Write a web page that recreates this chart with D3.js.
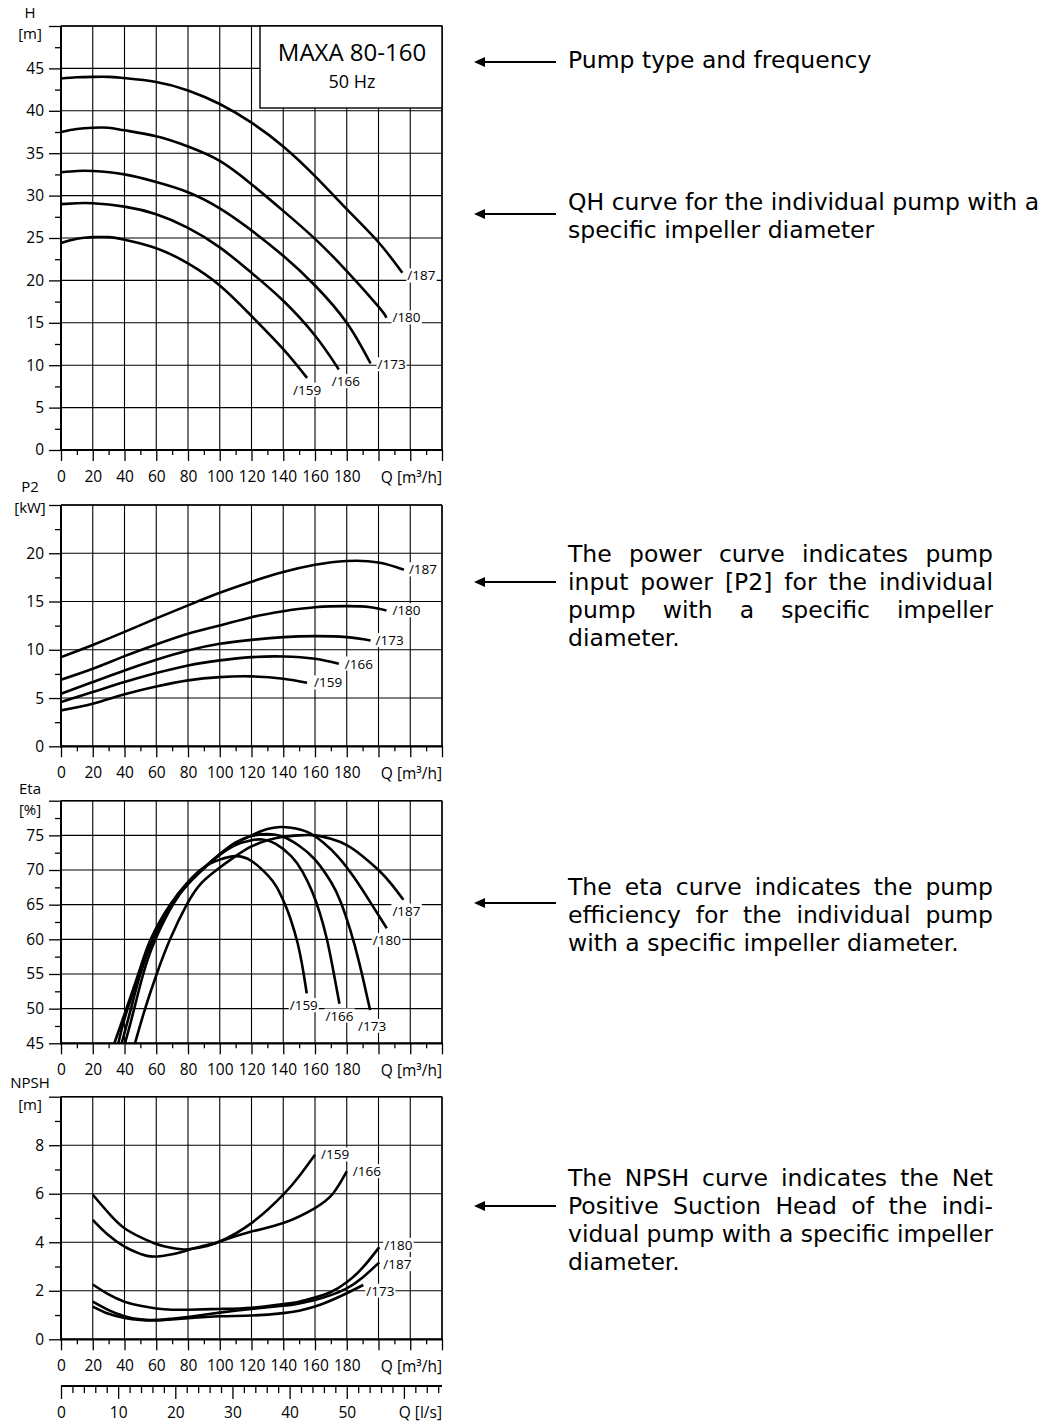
<!DOCTYPE html>
<html lang="en">
<head>
<meta charset="UTF-8" />
<title>MAXA 80-160 pump curves</title>
<script src="https://d3js.org/d3.v7.min.js"></script>
<style>
  body { margin: 0; background: #fff; }
  svg text { font-family: "Open Sans", "Noto Sans", sans-serif; fill: #000; }
  svg text.note { font-family: "DejaVu Sans", "Open Sans", sans-serif; }
  .grid line { stroke: #000; stroke-width: 1.1; }
  .tick line { stroke: #000; stroke-width: 1.3; }
  .curve { fill: none; stroke: #000; stroke-width: 2.6; stroke-linejoin: round; }
</style>
</head>
<body>
<svg id="svg" width="1048" height="1425"></svg>
<script>
// impeller diameters, in the order of each series array below
const sizes = ["159", "166", "173", "180", "187"];

// QH curves [Q m3/h, H m]
const headData = [
  [[0,24.4],[10,24.9],[20,25.1],[30,25.1],[40,24.8],[60,23.8],[80,22.0],[100,19.4],[120,15.8],[140,11.9],[155,8.5]],
  [[0,29.0],[10,29.1],[20,29.1],[40,28.7],[60,27.8],[80,26.2],[100,23.9],[120,20.9],[140,17.6],[160,13.5],[175,9.5]],
  [[0,32.75],[10,32.9],[20,32.9],[40,32.5],[60,31.6],[80,30.4],[100,28.5],[120,25.9],[140,22.9],[160,19.4],[180,15.0],[195,10.2]],
  [[0,37.5],[10,37.85],[20,38.0],[30,38.0],[40,37.7],[60,37.0],[80,35.8],[100,34.1],[120,31.35],[140,28.2],[160,24.9],[180,21.1],[200,16.9],[205,15.6]],
  [[0,43.8],[10,43.95],[20,44.0],[30,44.0],[40,43.85],[60,43.4],[80,42.4],[100,40.8],[120,38.6],[140,35.8],[160,32.3],[180,28.4],[200,24.5],[215,20.9]]
];

// power curves [Q m3/h, P2 kW]
const powerData = [
  [[0,3.72],[20,4.41],[40,5.38],[60,6.2],[80,6.83],[100,7.17],[120,7.24],[140,7.0],[155,6.59]],
  [[0,4.59],[20,5.62],[40,6.66],[60,7.59],[80,8.38],[100,8.9],[120,9.24],[140,9.31],[160,9.07],[175,8.55]],
  [[0,5.45],[20,6.66],[40,7.86],[60,8.97],[80,9.93],[100,10.62],[120,11.03],[140,11.31],[160,11.41],[180,11.31],[195,10.97]],
  [[0,6.9],[20,8.03],[40,9.34],[60,10.55],[80,11.66],[100,12.52],[120,13.38],[140,14.0],[160,14.41],[180,14.52],[195,14.41],[205,14.07]],
  [[0,9.24],[20,10.5],[40,11.85],[60,13.25],[80,14.6],[100,15.9],[120,17.05],[140,18.05],[160,18.8],[180,19.2],[200,19.05],[216,18.3]]
];

// efficiency curves [Q m3/h, eta %]
const etaData = [
  [[33.6,45],[40,49.2],[48.7,55],[56.5,60],[68.7,65],[80,68.3],[90,70.4],[100,71.5],[110,72],[120,71.3],[130,69.3],[136,67.5],[141.2,65],[144.5,63],[149,59.5],[152.5,55.5],[154.8,52.2]],
  [[36.1,45],[41,49.3],[49.5,55],[57.5,60],[69.5,65],[80,68],[90,70.3],[100,72.2],[110,73.6],[120,74.3],[127,74.4],[135,73.8],[145,72],[152,69.8],[158,67],[163,63.8],[167.5,60],[171.5,55.5],[175.4,50.7]],
  [[38.2,45],[43.5,49.5],[50,55],[58,60],[69.5,65],[80,68],[89.5,70.2],[100,72.3],[110,74],[120,74.9],[130,75.2],[140,74.8],[150,73.5],[160,71.5],[170,68.3],[176,65.5],[182,61.5],[188,56.5],[194.7,49.8]],
  [[40.3,45],[45,49],[51.8,55],[59.5,60],[70.5,65],[80,68],[89,70],[100,72.2],[110,73.8],[120,75],[130,75.9],[138,76.2],[145,76.1],[155,75.5],[165,74],[175,71.8],[185,68.8],[195,65.3],[205.2,61.6]],
  [[46.6,45],[53,50],[60.3,55],[68.7,60],[79.2,65],[88,68],[98,70],[110,72],[120,73.4],[130,74.3],[140,74.8],[150,75.0],[160,75.0],[170,74.5],[180,73.6],[190,72],[200,70],[208,68],[215.7,65.7]]
];

// NPSH curves [Q m3/h, NPSH m]
const npshData = [
  [[20,4.92],[29,4.34],[40,3.82],[50,3.52],[58,3.41],[71,3.52],[80,3.68],[92,3.89],[100,4.03],[120,4.79],[140,5.96],[150,6.72],[160,7.61]],
  [[20,5.96],[31,5.13],[40,4.58],[50,4.21],[60,3.93],[71,3.75],[80,3.71],[92,3.85],[100,4.03],[120,4.44],[140,4.79],[160,5.41],[171.6,6.03],[180,6.92]],
  [[20,1.35],[30,1.05],[40,0.88],[50,0.8],[60,0.78],[70,0.82],[80,0.87],[100,0.95],[120,0.98],[140,1.08],[150,1.18],[160,1.35],[170,1.6],[180,1.9],[190.4,2.24]],
  [[20,2.26],[30,1.85],[40,1.55],[50,1.38],[60,1.27],[70,1.22],[80,1.22],[100,1.25],[120,1.3],[140,1.45],[150,1.55],[160,1.72],[170,1.95],[180,2.35],[190,2.95],[200.5,3.8]],
  [[20,1.55],[30,1.2],[40,0.95],[50,0.82],[60,0.8],[70,0.85],[80,0.92],[100,1.1],[120,1.25],[140,1.38],[150,1.48],[160,1.62],[170,1.82],[180,2.1],[190,2.55],[200.5,3.17]]
];

const flowTicks = d3.range(0, 241, 20);
const flowMinor = d3.range(10, 240, 20);
const flowLabels = d3.range(0, 181, 20);
const litreTicks = d3.range(0, 67, 10);
const litreMinor = d3.range(2, 67, 2).filter(v => v % 10 !== 0);
const litreLabels = [0, 10, 20, 30, 40, 50];

const notes = [
  { lines: ["Pump type and frequency"], justify: false },
  { lines: ["QH curve for the individual pump with a", "specific impeller diameter"], justify: false },
  { lines: ["The power curve indicates pump", "input power [P2] for the individual",
            "pump with a specific impeller", "diameter."], justify: true },
  { lines: ["The eta curve indicates the pump", "efficiency for the individual pump",
            "with a specific impeller diameter."], justify: true },
  { lines: ["The NPSH curve indicates the Net", "Positive Suction Head of the indi-",
            "vidual pump with a specific impeller", "diameter."], justify: true }
];

// layout ------------------------------------------------------------
const svg = d3.select("#svg");
svg.append("rect").attr("width", 1048).attr("height", 1425).attr("fill", "#fff");

const left = 61, right = 442;
const tickFont = "15.5px";
const x = d3.scaleLinear().domain([0, 240]).range([left, right]);

const panels = [
  { name: "H", unit: "[m]", data: headData, domain: [0, 50], step: 5, minor: 2.5, top: 26, bottom: 450,
    nameY: -8, unitY: 13,
    offs: [[-14, 12], [-7, 12], [7, 1], [6, 0], [5, 3]] },
  { name: "P2", unit: "[kW]", data: powerData, domain: [0, 25], step: 5, minor: 2.5, top: 505, bottom: 746.3,
    nameY: -13, unitY: 8,
    offs: [[7, 0], [6, 0], [5, 0], [6, 0], [5, 0]] },
  { name: "Eta", unit: "[%]", data: etaData, domain: [45, 80], step: 5, minor: 2.5, top: 800.7, bottom: 1043.3,
    nameY: -7, unitY: 14,
    offs: [[-17, 12], [-14, 12], [-12, 16], [-14, 12], [-11, 11]] },
  { name: "NPSH", unit: "[m]", data: npshData, domain: [0, 10], step: 2, minor: 1, top: 1096.7, bottom: 1339.3,
    nameY: -9, unitY: 13,
    offs: [[6, 0], [6, 0], [3, 6], [5, -2], [4, 2]] }
];

panels.forEach((p, pi) => {
  const y = d3.scaleLinear().domain(p.domain).range([p.bottom, p.top]);
  const g = svg.append("g");
  const major = d3.range(p.domain[0], p.domain[1] + 0.001, p.step);
  const minor = d3.range(p.domain[0] + p.minor, p.domain[1], p.step);

  // grid
  const grid = g.append("g").attr("class", "grid");
  grid.selectAll(".v").data(flowTicks).join("line")
    .attr("x1", d => x(d)).attr("x2", d => x(d))
    .attr("y1", p.top).attr("y2", p.bottom);
  grid.selectAll(".h").data(major).join("line")
    .attr("x1", left).attr("x2", right)
    .attr("y1", d => y(d)).attr("y2", d => y(d));

  // y axis
  g.append("g").attr("transform", `translate(${left},0)`)
    .call(d3.axisLeft(y).tickValues(major).tickSize(12).tickPadding(5)
      .tickFormat(d => d === p.domain[1] ? "" : d))
    .call(a => a.select(".domain").remove())
    .call(a => a.selectAll("text").style("font-size", tickFont).attr("fill", "#000"));
  g.append("g").attr("transform", `translate(${left},0)`)
    .call(d3.axisLeft(y).tickValues(minor).tickSize(6).tickFormat(""))
    .call(a => a.select(".domain").remove());

  // x axis
  g.append("g").attr("transform", `translate(0,${p.bottom})`)
    .call(d3.axisBottom(x).tickValues(flowTicks).tickSize(11).tickPadding(10)
      .tickFormat(d => flowLabels.includes(d) ? d : ""))
    .call(a => a.select(".domain").remove())
    .call(a => a.selectAll("text").style("font-size", tickFont).attr("fill", "#000"));
  g.append("g").attr("transform", `translate(0,${p.bottom})`)
    .call(d3.axisBottom(x).tickValues(flowMinor).tickSize(5).tickFormat(""))
    .call(a => a.select(".domain").remove());
  g.append("text").attr("x", right).attr("y", p.bottom + 33)
    .attr("text-anchor", "end").style("font-size", tickFont).text("Q [m³/h]");

  // frame
  g.append("line").attr("x1", left).attr("x2", right).attr("y1", p.top).attr("y2", p.top)
    .attr("stroke", "#000").attr("stroke-width", 1.4);
  g.append("line").attr("x1", right).attr("x2", right).attr("y1", p.top).attr("y2", p.bottom)
    .attr("stroke", "#000").attr("stroke-width", 1.4);
  g.append("line").attr("x1", left).attr("x2", left).attr("y1", p.top).attr("y2", p.bottom + 1)
    .attr("stroke", "#000").attr("stroke-width", 2);
  g.append("line").attr("x1", left - 1).attr("x2", right + 1).attr("y1", p.bottom).attr("y2", p.bottom)
    .attr("stroke", "#000").attr("stroke-width", 2.2);

  // axis titles
  g.append("text").attr("x", 30).attr("y", p.top + p.nameY).attr("text-anchor", "middle")
    .style("font-size", "15px").text(p.name);
  g.append("text").attr("x", 30).attr("y", p.top + p.unitY).attr("text-anchor", "middle")
    .style("font-size", "15px").text(p.unit);

  if (pi === 0) {
    g.append("rect").attr("x", 260).attr("y", p.top).attr("width", right - 260).attr("height", 82)
      .attr("fill", "#fff").attr("stroke", "#000").attr("stroke-width", 1.4);
    g.append("text").attr("x", 352).attr("y", 61).attr("text-anchor", "middle")
      .style("font-size", "24px").text("MAXA 80-160");
    g.append("text").attr("x", 352).attr("y", 88).attr("text-anchor", "middle")
      .style("font-size", "18px").text("50 Hz");
  }

  // curves
  const line = d3.line().x(d => x(d[0])).y(d => y(d[1])).curve(d3.curveNatural);
  g.selectAll(".curve").data(p.data).join("path")
    .attr("class", "curve").attr("d", line);

  // curve labels
  p.data.forEach((s, i) => {
    const end = s[s.length - 1];
    const lx = x(end[0]) + p.offs[i][0];
    const ly = y(end[1]) + p.offs[i][1];
    const bg = g.append("rect").attr("fill", "#fff");
    const t = g.append("text").attr("x", lx).attr("y", ly).attr("dy", "0.35em")
      .style("font-size", "13.5px").text("/" + sizes[i]);
    const b = t.node().getBBox();
    bg.attr("x", b.x - 1).attr("y", b.y + 2).attr("width", b.width + 2).attr("height", b.height - 4);
  });
});

// second flow axis in l/s
const xl = d3.scaleLinear().domain([0, 240 / 3.6]).range([left, right]);
const lsY = 1386;
svg.append("g").attr("transform", `translate(0,${lsY})`)
  .call(d3.axisBottom(xl).tickValues(litreTicks).tickSize(13).tickPadding(8)
    .tickFormat(d => litreLabels.includes(d) ? d : ""))
  .call(a => a.select(".domain").remove())
  .call(a => a.selectAll("text").style("font-size", tickFont).attr("fill", "#000"));
svg.append("g").attr("transform", `translate(0,${lsY})`)
  .call(d3.axisBottom(xl).tickValues(litreMinor).tickSize(7).tickFormat(""))
  .call(a => a.select(".domain").remove());
svg.append("line").attr("x1", left).attr("x2", right).attr("y1", lsY).attr("y2", lsY)
  .attr("stroke", "#000").attr("stroke-width", 2);
svg.append("text").attr("x", right).attr("y", lsY + 32).attr("text-anchor", "end")
  .style("font-size", tickFont).text("Q [l/s]");

// explanations with arrows
const noteX = 568, noteRight = 993, lineH = 28, noteFont = "23.5px";
const arrowY = [62, 214, 582, 903, 1206];
const firstLine = [60, 202, 554, 887, 1178];

notes.forEach((n, ni) => {
  const a = arrowY[ni];
  svg.append("line").attr("x1", 482).attr("x2", 556).attr("y1", a).attr("y2", a)
    .attr("stroke", "#000").attr("stroke-width", 2);
  svg.append("path").attr("d", `M474,${a} L485,${a - 5} L485,${a + 5} Z`).attr("fill", "#000");

  n.lines.forEach((ln, li) => {
    const base = firstLine[ni] + li * lineH + 8;
    const last = li === n.lines.length - 1;
    if (!n.justify || last) {
      svg.append("text").attr("class", "note").attr("x", noteX).attr("y", base)
        .style("font-size", noteFont).text(ln);
      return;
    }
    const words = ln.split(" ");
    const ts = words.map(w => svg.append("text").attr("class", "note").attr("y", base)
      .style("font-size", noteFont).text(w));
    const widths = ts.map(t => t.node().getComputedTextLength());
    const gap = (noteRight - noteX - d3.sum(widths)) / (words.length - 1);
    let cx = noteX;
    ts.forEach((t, k) => { t.attr("x", cx); cx += widths[k] + gap; });
  });
});
</script>
</body>
</html>
